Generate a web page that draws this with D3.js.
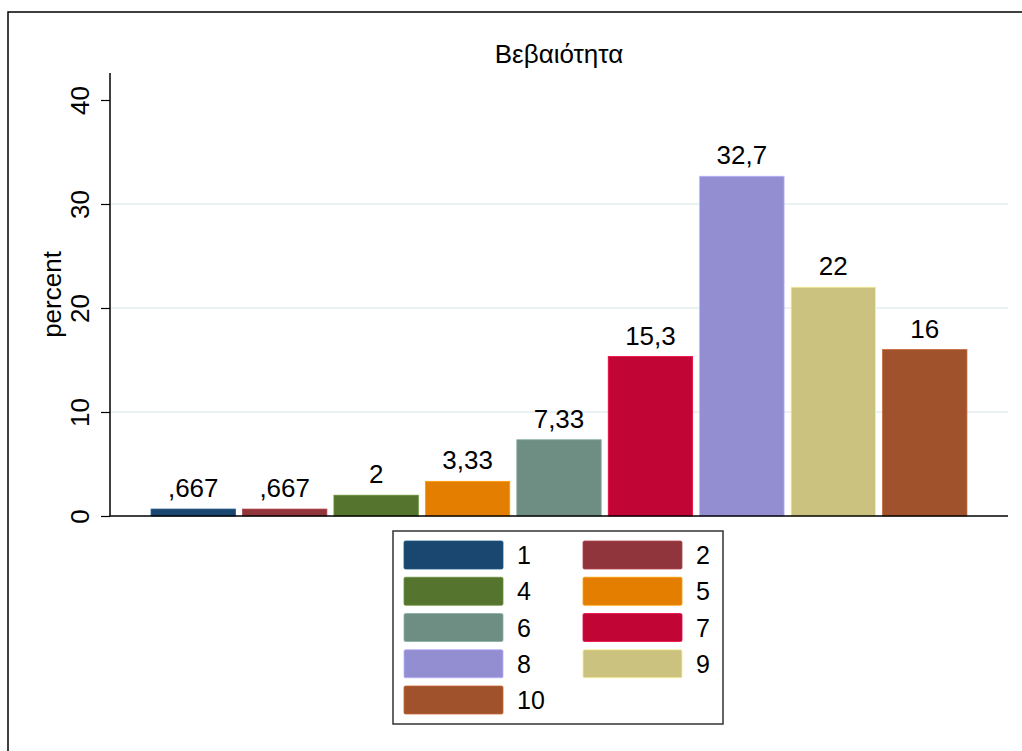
<!DOCTYPE html>
<html>
<head>
<meta charset="utf-8">
<script src="https://cdn.jsdelivr.net/npm/d3@7"></script>
<style>
  body { margin: 0; background: #fff; }
  text { font-family: "Liberation Sans", Arial, sans-serif; fill: #000; }
</style>
</head>
<body>
<div id="chart"></div>
<script>
// data
var categories = ["1", "2", "4", "5", "6", "7", "8", "9", "10"];
var percents = [0.667, 0.667, 2, 3.333, 7.333, 15.333, 32.667, 22, 16];
var barLabels = [",667", ",667", "2", "3,33", "7,33", "15,3", "32,7", "22", "16"];
var yTicks = [0, 10, 20, 30, 40];
var colors = ["#1a476f", "#90353b", "#55752f", "#e37e00", "#6e8e84", "#c10534", "#938dd2", "#cac27e", "#a0522d"];

var width = 1022, height = 751;
var plotLeft = 110, plotRight = 1008, plotTop = 73, plotBottom = 516;

var svg = d3.select("#chart").append("svg").attr("width", width).attr("height", height);

// outer graph border
svg.append("rect").attr("x", 8).attr("y", 12).attr("width", 1030).attr("height", 760)
    .attr("fill", "none").attr("stroke", "#000").attr("stroke-width", 1.5);

var x = d3.scaleBand().domain(categories).range([plotLeft, plotRight]).paddingInner(0.077).paddingOuter(0.449);
var y = d3.scaleLinear().domain([0, 40]).range([plotBottom, plotBottom - 416]);

// gridlines
svg.selectAll(".grid").data(yTicks.filter(function(d) { return d > 0 && d < 40; })).enter().append("line")
    .attr("x1", plotLeft).attr("x2", plotRight)
    .attr("y1", function(d) { return y(d); }).attr("y2", function(d) { return y(d); })
    .attr("stroke", "#eaf2f3").attr("stroke-width", 2);

// bars
svg.selectAll(".bar").data(percents).enter().append("rect")
    .attr("x", function(d, i) { return x(categories[i]); })
    .attr("width", x.bandwidth())
    .attr("y", function(d) { return y(d); })
    .attr("height", function(d) { return y(0) - y(d); })
    .attr("fill", function(d, i) { return colors[i]; })
    .attr("stroke", function(d, i) { return d3.color(colors[i]).brighter(0.6); })
    .attr("stroke-width", 0.8);

// bar labels
svg.selectAll(".blab").data(percents).enter().append("text")
    .attr("x", function(d, i) { return x(categories[i]) + x.bandwidth() / 2; })
    .attr("y", function(d) { return y(d) - 12; })
    .attr("text-anchor", "middle").style("font-size", "26px")
    .text(function(d, i) { return barLabels[i]; });

// y axis
var yAxis = d3.axisLeft(y).tickValues(yTicks).tickSize(9).tickPadding(12);
var gy = svg.append("g").attr("transform", "translate(" + plotLeft + ",0)").call(yAxis);
gy.select(".domain").remove();
gy.append("line").attr("x1", 0).attr("x2", 0).attr("y1", plotTop).attr("y2", plotBottom).attr("stroke", "#000").attr("stroke-width", 1.5);
gy.selectAll(".tick line").attr("stroke", "#000").attr("stroke-width", 1.2);
gy.selectAll(".tick text")
    .style("font-size", "26px").style("font-family", "Liberation Sans, Arial, sans-serif").attr("fill", "#000")
    .attr("text-anchor", "middle")
    .attr("transform", "translate(-21,0) rotate(-90)")
    .attr("x", 0).attr("y", 0).attr("dy", "0");

// x axis line
svg.append("line").attr("x1", plotLeft).attr("x2", plotRight).attr("y1", plotBottom).attr("y2", plotBottom)
    .attr("stroke", "#000").attr("stroke-width", 1.5);

// titles
svg.append("text").attr("x", (plotLeft + plotRight) / 2).attr("y", 63).attr("text-anchor", "middle")
    .style("font-size", "26px").text("Βεβαιότητα");
svg.append("text").attr("transform", "translate(61," + ((plotTop + plotBottom) / 2) + ") rotate(-90)")
    .attr("text-anchor", "middle").style("font-size", "26px").text("percent");

// legend
var legend = svg.append("g");
legend.append("rect").attr("x", 393).attr("y", 531).attr("width", 330).attr("height", 193)
    .attr("fill", "#fff").attr("stroke", "#333").attr("stroke-width", 1.5);
var items = legend.selectAll(".item").data(categories).enter().append("g")
    .attr("transform", function(d, i) {
        var col = i % 2, row = Math.floor(i / 2);
        return "translate(" + (404 + col * 179) + "," + (541 + row * 36.25) + ")";
    });
items.append("rect").attr("width", 99).attr("height", 28).attr("rx", 1.5)
    .attr("fill", function(d, i) { return colors[i]; })
    .attr("stroke", function(d, i) { return d3.color(colors[i]).brighter(0.6); }).attr("stroke-width", 0.8);
items.append("text").attr("x", 113).attr("y", 14).attr("dy", "0.36em")
    .style("font-size", "25px").text(function(d) { return d; });
</script>
</body>
</html>
